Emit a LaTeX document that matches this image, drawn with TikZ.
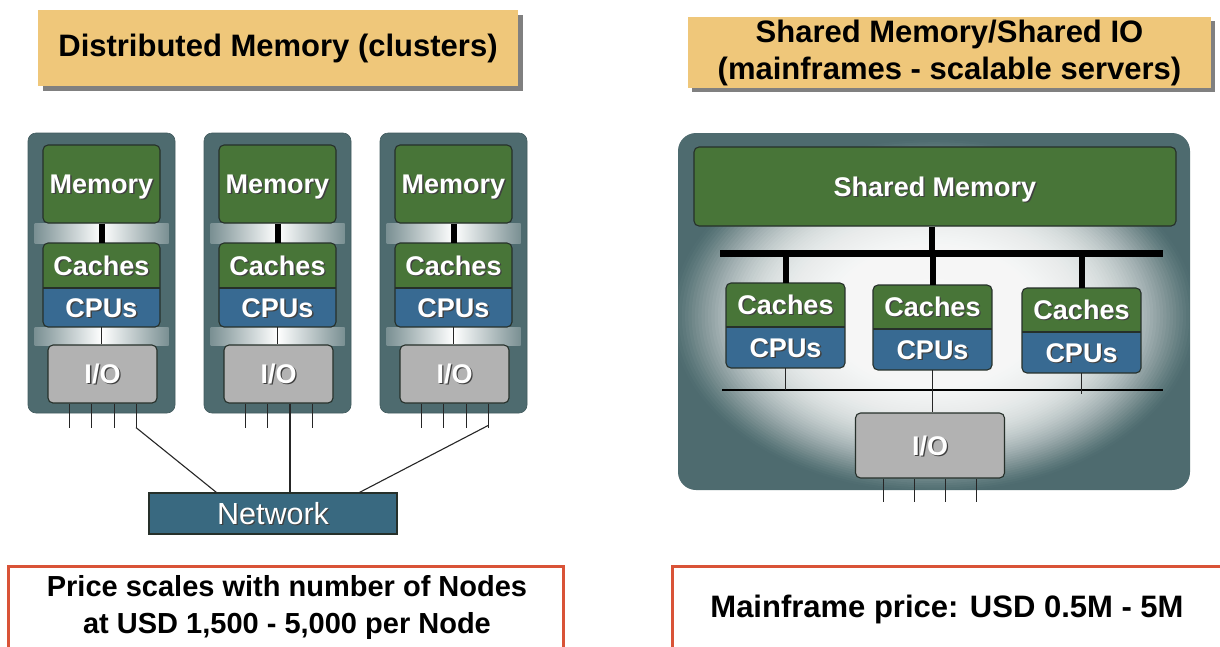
\documentclass[tikz,border=0pt]{standalone}
\usepackage{fontspec}
\setmainfont{Liberation Sans}
\usetikzlibrary{calc}

\definecolor{slate}{RGB}{78,107,111}
\definecolor{memgreen}{RGB}{72,117,56}
\definecolor{cpublue}{RGB}{56,106,146}
\definecolor{iogray}{RGB}{178,178,178}
\definecolor{netblue}{RGB}{57,105,128}
\definecolor{titlefill}{RGB}{239,199,122}
\definecolor{redline}{RGB}{217,83,55}
\definecolor{edgecol}{RGB}{38,48,42}

% white lettering with a dark drop shadow
\newcommand\emb[1]{\makebox[0pt][l]{\kern1.3pt\raisebox{-1.3pt}{\textcolor{black!75}{#1}}}\textcolor{white}{#1}}

\newcommand\lblfont{\fontsize{27}{31}\selectfont\bfseries}
\newcommand\bigfont{\fontsize{31}{37}\selectfont\bfseries}
\newcommand\notefont{\fontsize{29}{37}\selectfont\bfseries}

% caches stacked on CPUs: #1 name suffix, #2 centre x, #3 top, #4 split, #5 bottom, #6 width
\newcommand\ccunit[6]{%
  \begin{scope}
    \clip[rounded corners=5] ({#2-#6/2},#3) rectangle ({#2+#6/2},#5);
    \fill[memgreen] ({#2-#6/2},#3) rectangle ({#2+#6/2},#4);
    \fill[cpublue] ({#2-#6/2},#4) rectangle ({#2+#6/2},#5);
  \end{scope}
  \draw[edge, rounded corners=5] ({#2-#6/2},#3) rectangle ({#2+#6/2},#5);
  \draw[edge] ({#2-#6/2},#4) -- ({#2+#6/2},#4);
  \node[lbl, minimum width=#6, minimum height={#4-#3}] (cac#1) at (#2,{(#3+#4)/2}) {\emb{Caches}};
  \node[lbl, minimum width=#6, minimum height={#5-#4}] (cpu#1) at (#2,{(#4+#5)/2}) {\emb{CPUs}};
}

\begin{document}
\begin{tikzpicture}[x=1pt, y=-1pt,
  edge/.style={draw=edgecol, line width=1.1pt},
  lbl/.style={inner sep=0pt, font=\lblfont, text height=19.3pt, text depth=0pt},
  membox/.style={lbl, fill=memgreen, edge, rounded corners=5},
  iobox/.style={lbl, fill=iogray, edge, rounded corners=5},
  colbox/.style={fill=slate, draw=slate!85!black, line width=0.6pt, rounded corners=8, inner sep=0pt},
  titlebox/.style={fill=titlefill, inner sep=0pt, align=center, font=\bigfont},
  pricebox/.style={draw=redline, line width=3pt, fill=white, inner sep=0pt},
  wire/.style={draw=black!85, line width=1.1pt},
  pin/.style={draw=black!85, line width=1pt},
  heavy/.style={draw=black, line width=6pt},
  band/.style={left color=slate!75!white, right color=slate!75!white, middle color=white}]

\clip (0,0) rectangle (1220,646);
\fill[white] (0,0) rectangle (1220,646);

% ---------- headings ----------
\fill[black!50] (43,15) rectangle (523,91);
\node[titlebox, minimum width=480, minimum height=76] (tl) at (278,48)
  {Distributed Memory (clusters)};
\fill[black!50] (692,21) rectangle (1215,92);
\node[titlebox, minimum width=523, minimum height=71] (tr) at (949.5,52.5)
  {Shared Memory/Shared IO\\(mainframes - scalable servers)};

% ---------- cluster nodes ----------
\foreach \i/\cx in {1/101.5, 2/277.5, 3/453.5} {
  \node[colbox, minimum width=147, minimum height=280] (col\i) at (\cx,273) {};
  \shade[band] ({\cx-67},223) rectangle ({\cx+67},243);
  \shade[band] ({\cx-67},327) rectangle ({\cx+67},345);
  \node[membox, minimum width=117, minimum height=78] (mem\i) at (\cx,184) {\emb{Memory}};
  \ccunit{\i}{\cx}{243}{288}{327}{117}
  \node[iobox, minimum width=109, minimum height=58] (io\i) at ({\cx+1},374) {\emb{I/O}};
  \draw[heavy] (mem\i.south) -- (cac\i.north);
  \draw[wire] (cpu\i.south) -- (cpu\i.south |- io\i.north);
  \foreach \k/\dx in {1/-33.5, 2/-11.5, 3/11.5, 4/33.5}
    \draw[pin] ($(io\i.south)+(\dx,0)$) coordinate (p\i-\k) -- ++(0,24);
}

% ---------- interconnect ----------
\node[fill=netblue, draw=edgecol, line width=1.1pt, minimum width=248, minimum height=41,
  inner sep=0pt, font=\fontsize{30.5}{34}\selectfont, text height=21.5pt, text depth=0pt]
  (net) at (273,513.5) {\emb{Network}};
\coordinate (b1) at ($(p1-4)+(0,24)$);
\coordinate (b3) at ($(p3-4)+(0,22)$);
\coordinate (n1) at ($(net.north west)+(68,0)$);
\coordinate (n3) at ($(net.north west)+(211,0)$);
\draw[wire] (b1) -- (n1);
\draw[wire] (p2-3) -- (p2-3 |- net.north);
\draw[wire] (b3) -- (n3);

% ---------- shared-memory machine ----------
\node[fill=slate, rounded corners=18, minimum width=512, minimum height=357, inner sep=0pt]
  (smp) at (934,311.5) {};
% light glow: nested translucent ellipses, denser towards the middle
\begin{scope}
  \clip[rounded corners=18] (smp.south west) rectangle (smp.north east);
  \foreach \k in {0,...,79} {
    \pgfmathsetmacro\f{1-\k*0.0125}
    \pgfmathsetmacro\al{1-exp(7.5*(pow(\k*0.0125+0.0001,1.4)-pow((\k+1)*0.0125,1.4)))}
    \fill[white, fill opacity=\al] (934,316) ellipse ({262*\f} and {176*\f});
  }
\end{scope}
\node[membox, minimum width=482, minimum height=79] (shm) at (935,186.5) {\emb{Shared Memory}};
\coordinate (busL) at (720,253);
\coordinate (busR) at (1163,253);
\draw[black, line width=7pt] (busL) -- (busR);
\draw[heavy] (shm.south -| 932,0) -- (932,253);

\ccunit{a}{785.5}{283}{327}{368}{119}
\ccunit{b}{932.5}{285}{329}{370}{119}
\ccunit{c}{1081.5}{288}{332}{373}{119}
\foreach \u in {a,b,c}
  \draw[heavy] (cac\u.north) -- (cac\u.north |- busL);

\coordinate (tbL) at (722,390);
\coordinate (tbR) at (1163,390);
\draw[black, line width=1.5pt] (tbL) -- (tbR);
\draw[wire] (cpua.south) -- (cpua.south |- tbL);
\draw[wire] (cpuc.south) -- ($(cpuc.south |- tbL)+(0,4)$);

\node[iobox, minimum width=149, minimum height=65] (sio) at (930,445.5) {\emb{I/O}};
\draw[wire] (cpub.south) -- (cpub.south |- sio.north);
\foreach \k/\dx in {1/-46.5, 2/-15.5, 3/15.5, 4/46.5}
  \draw[pin] ($(sio.south)+(\dx,0)$) coordinate (q\k) -- ++(0,23);

% ---------- price notes ----------
\node[pricebox, minimum width=555, minimum height=100] (pl) at (285.5,616) {};
\node[inner sep=0pt, align=center, font=\notefont] (plt) at (287,607)
  {Price scales with number of Nodes\\at USD 1,500 - 5,000 per Node};
\node[pricebox, minimum width=570, minimum height=100] (pr) at (957,616) {};
\node[inner sep=0pt, font=\bigfont, text height=22.2pt, text depth=0pt] (prt) at (947,606)
  {Mainframe price: USD 0.5M - 5M};

\end{tikzpicture}
\end{document}
